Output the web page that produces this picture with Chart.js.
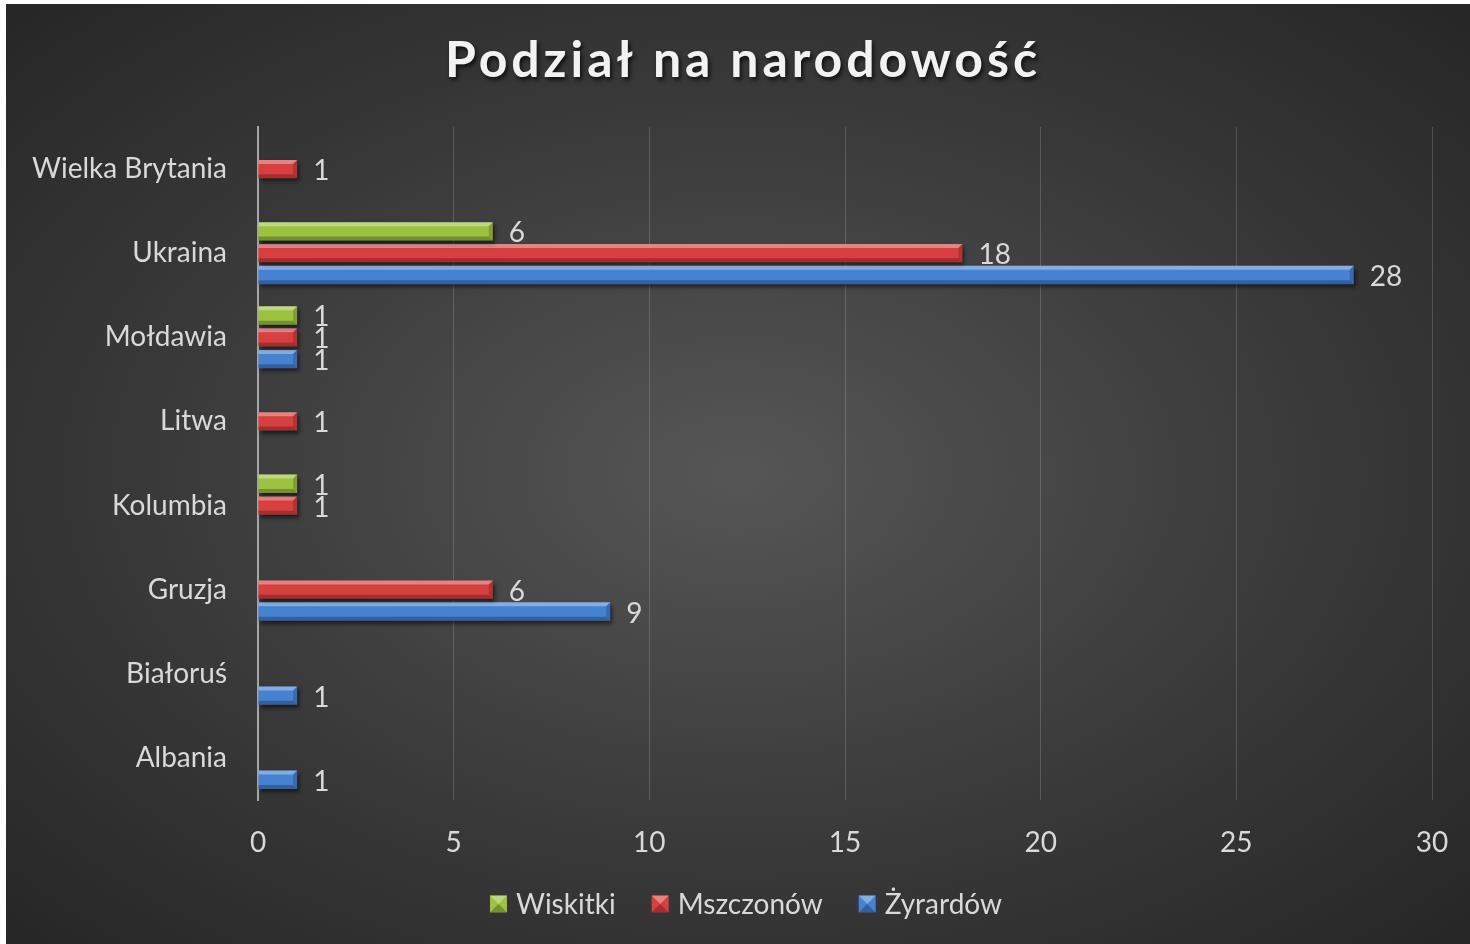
<!DOCTYPE html>
<html>
<head>
<meta charset="utf-8">
<script src="https://cdn.jsdelivr.net/npm/chart.js@4"></script>
<style>
  body { margin: 0; background: #fff; }
  #wrap {
    position: absolute; left: 6px; top: 4px; width: 1464px; height: 940px;
    background: radial-gradient(ellipse farthest-corner at 50% 50%, #565656 0%, #3a3a3a 55%, #262626 100%);
  }
</style>
</head>
<body>
<div id="wrap"><canvas id="natChart"></canvas></div>
<script>
// Data
const categories = ['Wielka Brytania', 'Ukraina', 'Mołdawia', 'Litwa', 'Kolumbia', 'Gruzja', 'Białoruś', 'Albania'];
const seriesNames = ['Wiskitki', 'Mszczonów', 'Żyrardów'];
const wiskitki = [null, 6, 1, null, 1, null, null, null];
const mszczonow = [1, 18, 1, 1, 1, 6, null, null];
const zyrardow = [null, 28, 1, null, null, 9, 1, 1];
const xTicks = [0, 5, 10, 15, 20, 25, 30];

const colors = ['#9cc23f', '#d83f3f', '#4682d2'];
const textColor = '#d9d9d9';
const fontFamily = 'Lato, "Open Sans", sans-serif';

// Bevel look on bars + value labels
const bevelPlugin = {
  id: 'bevel',
  beforeDatasetsDraw(chart) {
    const ctx = chart.ctx;
    ctx.save();
    ctx.shadowColor = 'rgba(0,0,0,0.55)';
    ctx.shadowBlur = 4;
    ctx.shadowOffsetX = 2;
    ctx.shadowOffsetY = 3;
  },
  afterDatasetsDraw(chart) {
    const ctx = chart.ctx;
    ctx.restore();
    chart.data.datasets.forEach((ds, i) => {
      const meta = chart.getDatasetMeta(i);
      meta.data.forEach((bar, j) => {
        const v = ds.data[j];
        if (v === null || v === undefined) return;
        const left = Math.min(bar.base, bar.x);
        const right = Math.max(bar.base, bar.x);
        const top = bar.y - bar.height / 2;
        const bottom = bar.y + bar.height / 2;
        const b = 4;
        ctx.save();
        // top highlight
        ctx.fillStyle = 'rgba(255,255,255,0.35)';
        ctx.beginPath();
        ctx.moveTo(left, top); ctx.lineTo(right, top);
        ctx.lineTo(right - b, top + b); ctx.lineTo(left, top + b);
        ctx.closePath(); ctx.fill();
        // bottom shade
        ctx.fillStyle = 'rgba(0,0,0,0.25)';
        ctx.beginPath();
        ctx.moveTo(left, bottom); ctx.lineTo(right, bottom);
        ctx.lineTo(right - b, bottom - b); ctx.lineTo(left, bottom - b);
        ctx.closePath(); ctx.fill();
        // right end
        ctx.fillStyle = 'rgba(0,0,0,0.18)';
        ctx.beginPath();
        ctx.moveTo(right, top); ctx.lineTo(right, bottom);
        ctx.lineTo(right - b, bottom - b); ctx.lineTo(right - b, top + b);
        ctx.closePath(); ctx.fill();
        // value label
        ctx.fillStyle = textColor;
        ctx.font = '28px ' + fontFamily;
        ctx.textAlign = 'left';
        ctx.textBaseline = 'middle';
        ctx.fillText(String(v), right + 16, bar.y + 2);
        ctx.restore();
      });
    });
  }
};

// Title and legend
const decorPlugin = {
  id: 'decor',
  afterDraw(chart) {
    const ctx = chart.ctx;
    ctx.save();
    // title
    const title = 'Podział na narodowość';
    ctx.font = 'bold 50px ' + fontFamily;
    const w0 = ctx.measureText(title).width;
    const spacing = (592 - w0) / (title.length - 1);
    ctx.letterSpacing = spacing + 'px';
    const w = ctx.measureText(title).width;
    ctx.textBaseline = 'middle';
    ctx.textAlign = 'left';
    ctx.shadowColor = 'rgba(0,0,0,0.7)';
    ctx.shadowBlur = 4;
    ctx.shadowOffsetX = 2;
    ctx.shadowOffsetY = 3;
    ctx.fillStyle = '#f2f2f2';
    ctx.fillText(title, 735 - w / 2 + spacing / 2, 57);
    ctx.restore();

    // legend
    ctx.save();
    ctx.font = '28px ' + fontFamily;
    const box = 17, boxGap = 9, itemGap = 36;
    const widths = seriesNames.map(n => ctx.measureText(n).width);
    let total = 0;
    widths.forEach((tw, i) => { total += box + boxGap + tw + (i < widths.length - 1 ? itemGap : 0); });
    let x = 740 - total / 2;
    const cy = 900;
    seriesNames.forEach((name, i) => {
      const bx = x, by = cy - box / 2;
      ctx.fillStyle = colors[i];
      ctx.fillRect(bx, by, box, box);
      ctx.fillStyle = 'rgba(255,255,255,0.35)';
      ctx.beginPath();
      ctx.moveTo(bx, by); ctx.lineTo(bx + box, by); ctx.lineTo(bx + box / 2, by + box / 2);
      ctx.closePath(); ctx.fill();
      ctx.fillStyle = 'rgba(0,0,0,0.25)';
      ctx.beginPath();
      ctx.moveTo(bx, by + box); ctx.lineTo(bx + box, by + box); ctx.lineTo(bx + box / 2, by + box / 2);
      ctx.closePath(); ctx.fill();
      ctx.fillStyle = textColor;
      ctx.textAlign = 'left';
      ctx.textBaseline = 'middle';
      ctx.fillText(name, bx + box + boxGap, cy + 1);
      x += box + boxGap + widths[i] + itemGap;
    });
    ctx.restore();
  }
};

const ctx = document.getElementById('natChart').getContext('2d');
new Chart(ctx, {
  type: 'bar',
  data: {
    labels: categories,
    datasets: [
      { label: seriesNames[0], data: wiskitki, backgroundColor: colors[0] },
      { label: seriesNames[1], data: mszczonow, backgroundColor: colors[1] },
      { label: seriesNames[2], data: zyrardow, backgroundColor: colors[2] }
    ]
  },
  options: {
    indexAxis: 'y',
    responsive: true,
    maintainAspectRatio: false,
    animation: false,
    categoryPercentage: 0.78,
    barPercentage: 0.84,
    layout: { padding: { top: 123, right: 38, left: 0, bottom: 0 } },
    scales: {
      x: {
        min: 0,
        max: 30,
        afterBuildTicks: (scale) => { scale.ticks = xTicks.map(v => ({ value: v })); },
        afterFit: (scale) => { scale.height = 144; scale.paddingRight = 0; },
        ticks: { color: textColor, font: { family: fontFamily, size: 28 }, padding: 26 },
        grid: { color: 'rgba(255,255,255,0.16)', lineWidth: 1, drawTicks: false },
        border: { display: false }
      },
      y: {
        afterFit: (scale) => { scale.width = 252; },
        ticks: { color: textColor, font: { family: fontFamily, size: 28 }, padding: 23 },
        grid: { display: false },
        border: { display: true, color: '#a6a6a6', width: 2 }
      }
    },
    plugins: {
      legend: { display: false },
      title: { display: false },
      tooltip: { enabled: false }
    }
  },
  plugins: [bevelPlugin, decorPlugin]
});
</script>
</body>
</html>
